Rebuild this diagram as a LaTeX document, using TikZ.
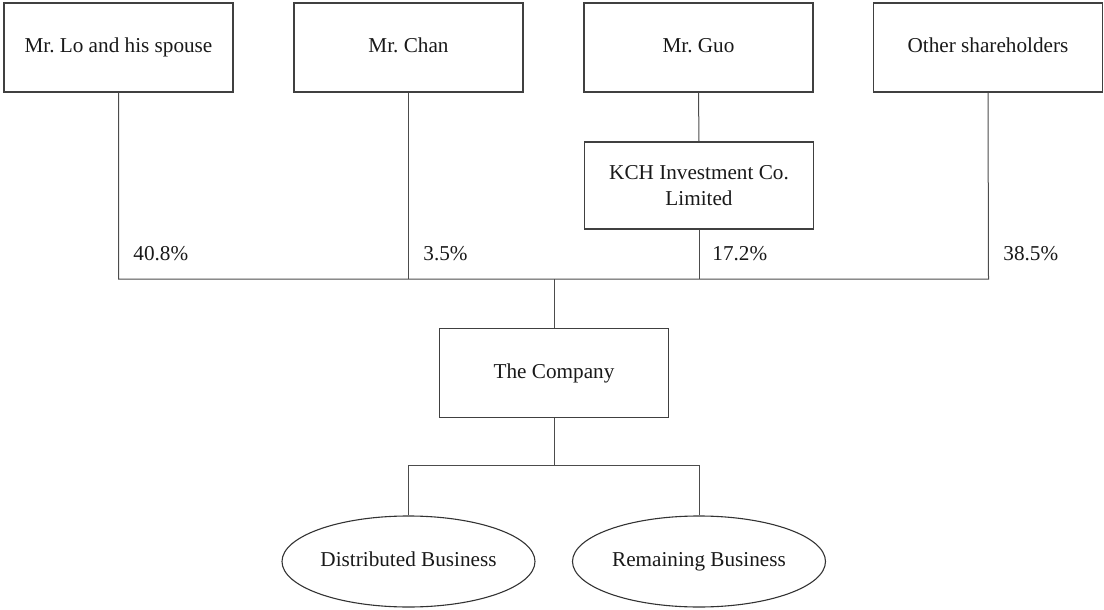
\documentclass[tikz,border=0pt]{standalone}
\usepackage{fontspec}
\setmainfont{Liberation Serif}
\usetikzlibrary{shapes.geometric}
\frenchspacing
\begin{document}
\begin{tikzpicture}[x=0.5pt,y=-0.5pt,
  every node/.style={font=\fontsize{10.6}{12.6}\selectfont, text=black!90},
  box/.style={draw=black!75, line width=0.55pt, rectangle, inner sep=0pt, minimum width=114.5pt, minimum height=44.5pt, align=center, text height=7.4pt, text depth=2.2pt},
  box2/.style={draw=black!75, line width=0.55pt, rectangle, inner sep=0pt, minimum width=114.5pt, minimum height=43.5pt, align=center},
  oval/.style={draw=black!80, line width=0.55pt, ellipse, inner sep=0pt, minimum width=126.5pt, minimum height=45.5pt, text height=7.4pt, text depth=2.2pt},
  conn/.style={draw=black!70, line width=0.5pt},
  pct/.style={anchor=west, inner sep=0pt}]
\useasboundingbox (0,0) rectangle (1104,610);
\node[box] (lo) at (118.5,47.5) {Mr. Lo and his spouse};
\node[box] (chan) at (408.5,47.5) {Mr. Chan};
\node[box] (guo) at (698.5,47.5) {Mr. Guo};
\node[box] (oth) at (988,47.5) {Other shareholders};
\node[box2] (kch) at (699,185.5) {KCH Investment Co.\\Limited};
\node[box] (co) at (554,373) {The Company};
\node[oval] (dist) at (408.5,561.5) {Distributed Business};
\node[oval] (rem) at (699,561.5) {Remaining Business};
\coordinate (jl) at (118.5,279);
\coordinate (jc) at (408.5,279);
\coordinate (jk) at (699,279);
\coordinate (jo) at (988.5,279);
\coordinate (jm) at (554,279);
\coordinate (bl) at (408.5,465);
\coordinate (bm) at (554,465);
\coordinate (br) at (699,465);
\draw[conn] (lo.south) -- (jl) -- (jo) -- (oth.south);
\draw[conn] (chan.south) -- (jc);
\draw[conn] (guo.south) -- (kch.north);
\draw[conn] (kch.south) -- (jk);
\draw[conn] (jm) -- (co.north);
\draw[conn] (co.south) -- (bm);
\draw[conn] (dist.north) -- (bl) -- (br) -- (rem.north);
\node[pct] (p1) at (133,254) {40.8\%};
\node[pct] (p2) at (423,254) {3.5\%};
\node[pct] (p3) at (712,254) {17.2\%};
\node[pct] (p4) at (1003,254) {38.5\%};
\end{tikzpicture}
\end{document}
